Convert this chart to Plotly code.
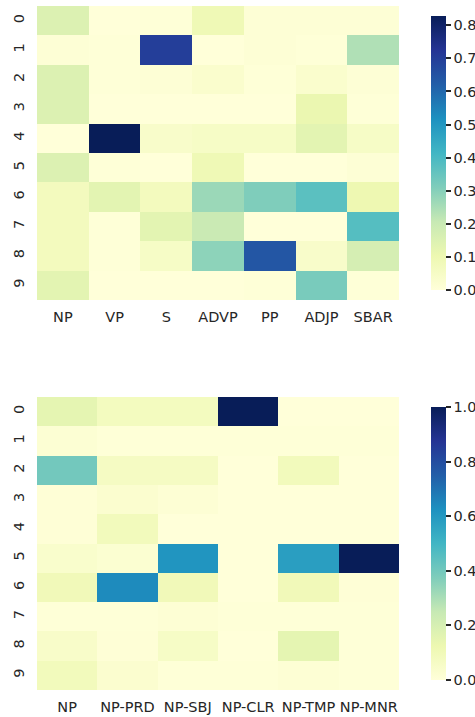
import plotly.graph_objects as go

rows = ["0", "1", "2", "3", "4", "5", "6", "7", "8", "9"]

top_cols = ["NP", "VP", "S", "ADVP", "PP", "ADJP", "SBAR"]
top_vals = [
    [0.15, 0.000, 0.005, 0.09, 0.010, 0.010, 0.010],
    [0.01, 0.005, 0.700, 0.00, 0.010, 0.005, 0.240],
    [0.15, 0.005, 0.010, 0.03, 0.005, 0.030, 0.010],
    [0.15, 0.000, 0.000, 0.00, 0.000, 0.110, 0.005],
    [0.00, 0.828, 0.040, 0.05, 0.050, 0.130, 0.050],
    [0.15, 0.005, 0.000, 0.09, 0.000, 0.000, 0.010],
    [0.07, 0.130, 0.070, 0.27, 0.310, 0.370, 0.100],
    [0.07, 0.005, 0.130, 0.20, 0.000, 0.000, 0.380],
    [0.07, 0.005, 0.050, 0.29, 0.640, 0.040, 0.170],
    [0.13, 0.000, 0.000, 0.00, 0.005, 0.320, 0.005],
]

bot_cols = ["NP", "NP-PRD", "NP-SBJ", "NP-CLR", "NP-TMP", "NP-MNR"]
bot_vals = [
    [0.15, 0.08, 0.08, 1.000, 0.000, 0.000],
    [0.02, 0.005, 0.005, 0.005, 0.005, 0.005],
    [0.40, 0.07, 0.07, 0.000, 0.090, 0.000],
    [0.01, 0.03, 0.015, 0.000, 0.000, 0.000],
    [0.01, 0.09, 0.000, 0.000, 0.000, 0.000],
    [0.04, 0.025, 0.61, 0.000, 0.580, 1.000],
    [0.10, 0.64, 0.10, 0.000, 0.100, 0.010],
    [0.005, 0.005, 0.015, 0.005, 0.005, 0.005],
    [0.05, 0.01, 0.06, 0.000, 0.150, 0.005],
    [0.09, 0.03, 0.005, 0.005, 0.015, 0.005],
]

ylgnbu = [
    [0.0, "#ffffd9"], [0.125, "#edf8b1"], [0.25, "#c7e9b4"], [0.375, "#7fcdbb"],
    [0.5, "#41b6c4"], [0.625, "#1d91c0"], [0.75, "#225ea8"], [0.875, "#253494"],
    [1.0, "#081d58"],
]

W, H = 475, 717
FONT = "DejaVu Sans"
TXT = "#262626"
FS = 14.5

def px_x(p):
    return p / W

def px_y(p):
    return 1 - p / H

top_max = max(max(r) for r in top_vals)
bot_max = max(max(r) for r in bot_vals)

fig = go.Figure()
fig.add_trace(go.Heatmap(
    z=top_vals, x=top_cols, y=rows, colorscale=ylgnbu, zmin=0, zmax=top_max,
    xaxis="x", yaxis="y",
    colorbar=dict(
        x=px_x(421), xanchor="left", y=px_y(153), yanchor="middle",
        len=(300 - 6) / H, lenmode="fraction", thickness=15, outlinewidth=0,
        ticks="outside", ticklen=5, tickwidth=1.5, tickcolor=TXT,
        tickvals=[0, 0.1, 0.2, 0.3, 0.4, 0.5, 0.6, 0.7, 0.8],
        ticktext=["0.0", "0.1", "0.2", "0.3", "0.4", "0.5", "0.6", "0.7", "0.8"],
        tickfont=dict(family=FONT, size=FS, color=TXT),
    ),
))
fig.add_trace(go.Heatmap(
    z=bot_vals, x=bot_cols, y=rows, colorscale=ylgnbu, zmin=0, zmax=bot_max,
    xaxis="x2", yaxis="y2",
    colorbar=dict(
        x=px_x(421), xanchor="left", y=px_y(543.5), yanchor="middle",
        len=(690 - 397) / H, lenmode="fraction", thickness=15, outlinewidth=0,
        ticks="outside", ticklen=5, tickwidth=1.5, tickcolor=TXT,
        tickvals=[0, 0.2, 0.4, 0.6, 0.8, 1.0],
        ticktext=["0.0", "0.2", "0.4", "0.6", "0.8", "1.0"],
        tickfont=dict(family=FONT, size=FS, color=TXT),
    ),
))

axfont = dict(family=FONT, size=FS, color=TXT)
common_x = dict(showgrid=False, zeroline=False, ticks="", tickfont=axfont, ticklabelstandoff=6)
common_y = dict(showgrid=False, zeroline=False, ticks="", tickfont=axfont, tickangle=-90,
                autorange="reversed", ticklabelstandoff=9)

fig.update_layout(
    width=W, height=H,
    margin=dict(l=0, r=0, t=0, b=0, autoexpand=False),
    paper_bgcolor="white", plot_bgcolor="white",
    font=dict(family=FONT, color=TXT),
    xaxis=dict(domain=[px_x(37), px_x(399)], anchor="y", **common_x),
    yaxis=dict(domain=[px_y(300), px_y(6)], anchor="x", **common_y),
    xaxis2=dict(domain=[px_x(37), px_x(399)], anchor="y2", **common_x),
    yaxis2=dict(domain=[px_y(690), px_y(397)], anchor="x2", **common_y),
)

fig.write_html(
    "out.html",
    config={"displayModeBar": False},
    post_script="document.body.style.margin='0';document.body.style.overflow='hidden';",
)
